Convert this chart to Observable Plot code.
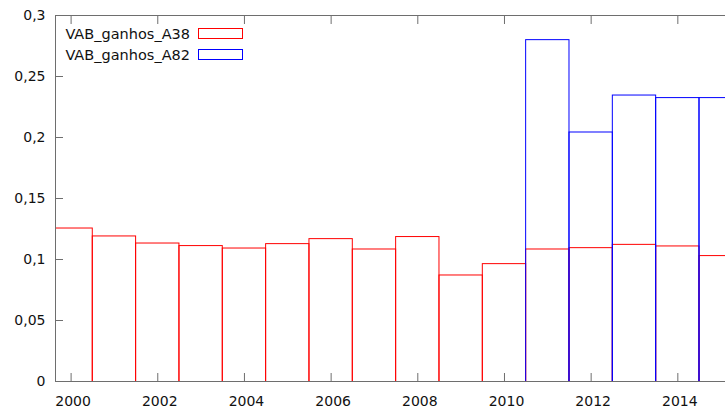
<!DOCTYPE html>
<html><head><meta charset="utf-8">
<script src="https://cdn.jsdelivr.net/npm/d3@7"></script>
<script src="https://cdn.jsdelivr.net/npm/@observablehq/plot@0.6"></script>
<style>body{margin:0;background:#fff} svg{display:block}</style>
</head><body><div id="chart"></div>
<script>
// Data
const years = [2000, 2001, 2002, 2003, 2004, 2005, 2006, 2007, 2008, 2009, 2010, 2011, 2012, 2013, 2014, 2015];
const a38 = [0.1254, 0.1189, 0.1131, 0.1110, 0.1090, 0.1126, 0.1167, 0.1082, 0.1184, 0.0869, 0.0962, 0.1082, 0.1093, 0.1120, 0.1107, 0.1028];
const years82 = [2011, 2012, 2013, 2014, 2015];
const a82 = [0.2798, 0.2041, 0.2344, 0.2323, 0.2323];
const seriesNames = ["VAB_ganhos_A38", "VAB_ganhos_A82"];
const seriesColors = ["red", "blue"];
const yTicks = [0, 0.05, 0.1, 0.15, 0.2, 0.25, 0.3];
const xTicks = [2000, 2002, 2004, 2006, 2008, 2010, 2012, 2014];

// Config
const xDomain = [1999.64, 2015.1];
const yDomain = [0, 0.3];
const axisColor = "#6e6e6e";
const fmt = d => String(d).replace(".", ",");

const rows38 = years.map((y, i) => ({year: y, value: a38[i]}));
const rows82 = years82.map((y, i) => ({year: y, value: a82[i]}));

const chart = Plot.plot({
  width: 725, height: 411,
  marginLeft: 55, marginRight: 0, marginTop: 15, marginBottom: 30,
  style: {fontFamily: "DejaVu Sans", fontSize: "14px", color: "#111", background: "#fff"},
  x: {domain: xDomain},
  y: {domain: yDomain},
  marks: [
    Plot.rect(rows38, {x1: d => d.year - 0.5, x2: d => d.year + 0.5, y1: 0, y2: "value", insetBottom: -3, fill: "none", stroke: seriesColors[0], clip: true}),
    Plot.rect(rows82, {x1: d => d.year - 0.5, x2: d => d.year + 0.5, y1: 0, y2: "value", insetBottom: -3, fill: "none", stroke: seriesColors[1], clip: true}),
    Plot.axisY(yTicks, {tickSize: 8, dx: 8, fill: "none", stroke: axisColor, label: null}),
    Plot.axisY(yTicks, {tickSize: 0, tickPadding: 10, tickFormat: fmt, label: null}),
    Plot.axisX(xTicks, {anchor: "bottom", tickSize: 8, dy: -8, fill: "none", stroke: axisColor, label: null}),
    Plot.axisX(xTicks, {anchor: "bottom", tickSize: 0, tickPadding: 15, dx: 2, tickFormat: d => String(d), label: null}),
    Plot.axisX(xTicks, {anchor: "top", tickSize: 8, dy: 8, fill: "none", stroke: axisColor, label: null}),
    Plot.ruleY([yDomain[0], yDomain[1]], {stroke: axisColor}),
    Plot.ruleX([xDomain[0]], {stroke: axisColor})
  ]
});
document.getElementById("chart").appendChild(chart);

// Legend inside plot (top-left)
const svg = d3.select(chart);
const lg = svg.append("g").attr("font-family", "DejaVu Sans").attr("font-size", 14.5).attr("fill", "#111");
seriesNames.forEach((name, i) => {
  const yb = 39 + i * 20.5;
  lg.append("text").attr("x", 190).attr("y", yb).attr("text-anchor", "end").text(name);
  lg.append("rect").attr("x", 198.5).attr("y", 28.5 + i * 21).attr("width", 44).attr("height", 10)
    .attr("fill", "none").attr("stroke", seriesColors[i]);
});
</script>
</body></html>
